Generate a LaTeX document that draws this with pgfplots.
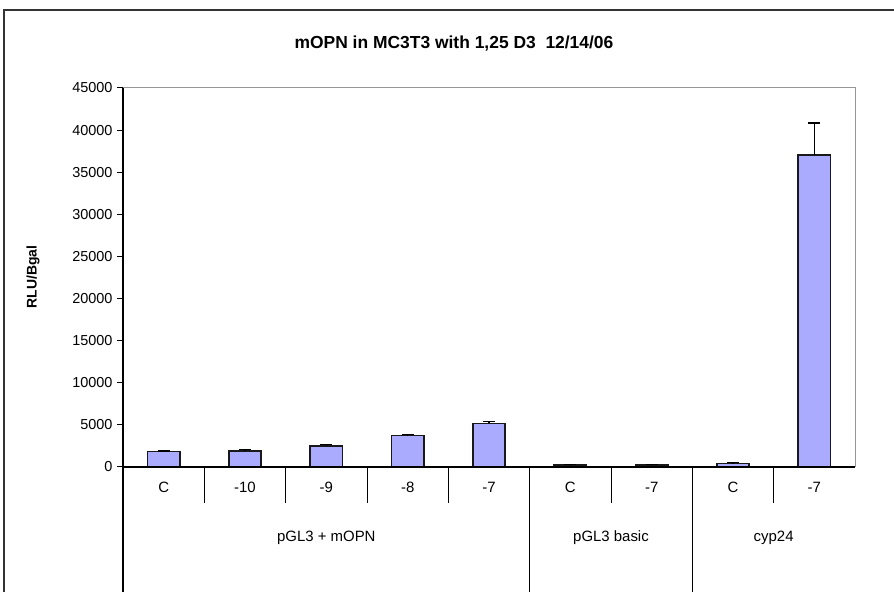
\documentclass[border=0pt]{standalone}
\usepackage{pgfplots}
\pgfplotsset{compat=1.18}
\usepackage{fontspec}
\setmainfont{Liberation Sans}
\definecolor{barfill}{RGB}{170,170,255}
\definecolor{plotgray}{RGB}{150,150,150}
\begin{document}
\begin{tikzpicture}[x=1bp,y=1bp]
\useasboundingbox (0,0) rectangle (894,592);
\begin{scope}
\clip (0,0) rectangle (894,592);
\draw[line width=1.6bp, black!80] (4,-10) -- (4,582) -- (910,582);
\end{scope}
\node[font=\fontsize{17.5}{20}\selectfont\bfseries] at (454,548) {mOPN in MC3T3 with 1,25 D3\ \ 12/14/06};
\node[font=\fontsize{14}{16}\selectfont\bfseries, rotate=90] at (33,315) {RLU/Bgal};
\begin{axis}[
  at={(123bp,125bp)}, anchor=south west,
  scale only axis, width=732bp, height=379bp,
  xmin=-0.5, xmax=8.5, ymin=0, ymax=45000,
  clip=false,
  axis line style={draw=plotgray, line width=1bp},
  ytick={0,5000,...,45000},
  scaled y ticks=false,
  /pgf/number format/assume math mode=true,
  /pgf/number format/set thousands separator={},
  yticklabel style={font=\fontsize{14.5}{16}\selectfont, xshift=-1bp},
  ytick style={black, line width=1bp},
  major tick length=6bp,
  tick align=outside,
  ytick pos=left,
  xtick={0,...,8},
  xticklabels={C,-10,-9,-8,-7,C,-7,C,-7},
  xticklabel style={font=\fontsize{15}{17}\selectfont, yshift=-6bp},
  xtick style={draw=none},
  xtick pos=bottom,
]
\addplot[ybar, bar width=0.4, fill=barfill, draw=black!90, line width=1.6bp,
  error bars/.cd, y dir=plus, y explicit,
  error bar style={black, line width=1.2bp},
  error mark options={rotate=90, mark size=6bp, black, line width=1.2bp}]
  table[x=x, y=y, y error=e] {
x y e
0 1850 40
1 1900 160
2 2520 130
3 3720 100
4 5170 270
5 250 30
6 240 30
7 420 70
8 37050 3800
};
% black left and bottom axis lines
\draw[black, line width=1.2bp] (axis cs:-0.5,45000) -- ([yshift=-130bp]axis cs:-0.5,0);
\draw[black, line width=1.2bp] (axis cs:-0.5,0) -- (axis cs:8.5,0);
% category separators
\pgfplotsinvokeforeach{0.5,1.5,2.5,3.5,5.5,7.5}{
  \draw[black, line width=1bp] (axis cs:#1,0) -- ([yshift=-36bp]axis cs:#1,0);
}
\pgfplotsinvokeforeach{4.5,6.5}{
  \draw[black, line width=1bp] (axis cs:#1,0) -- ([yshift=-130bp]axis cs:#1,0);
}
\node[font=\fontsize{15}{17}\selectfont] at ([yshift=-71bp]axis cs:2,0) {pGL3 + mOPN};
\node[font=\fontsize{15}{17}\selectfont] at ([yshift=-71bp]axis cs:5.5,0) {pGL3 basic};
\node[font=\fontsize{15}{17}\selectfont] at ([yshift=-71bp]axis cs:7.5,0) {cyp24};
\end{axis}
\end{tikzpicture}
\end{document}
